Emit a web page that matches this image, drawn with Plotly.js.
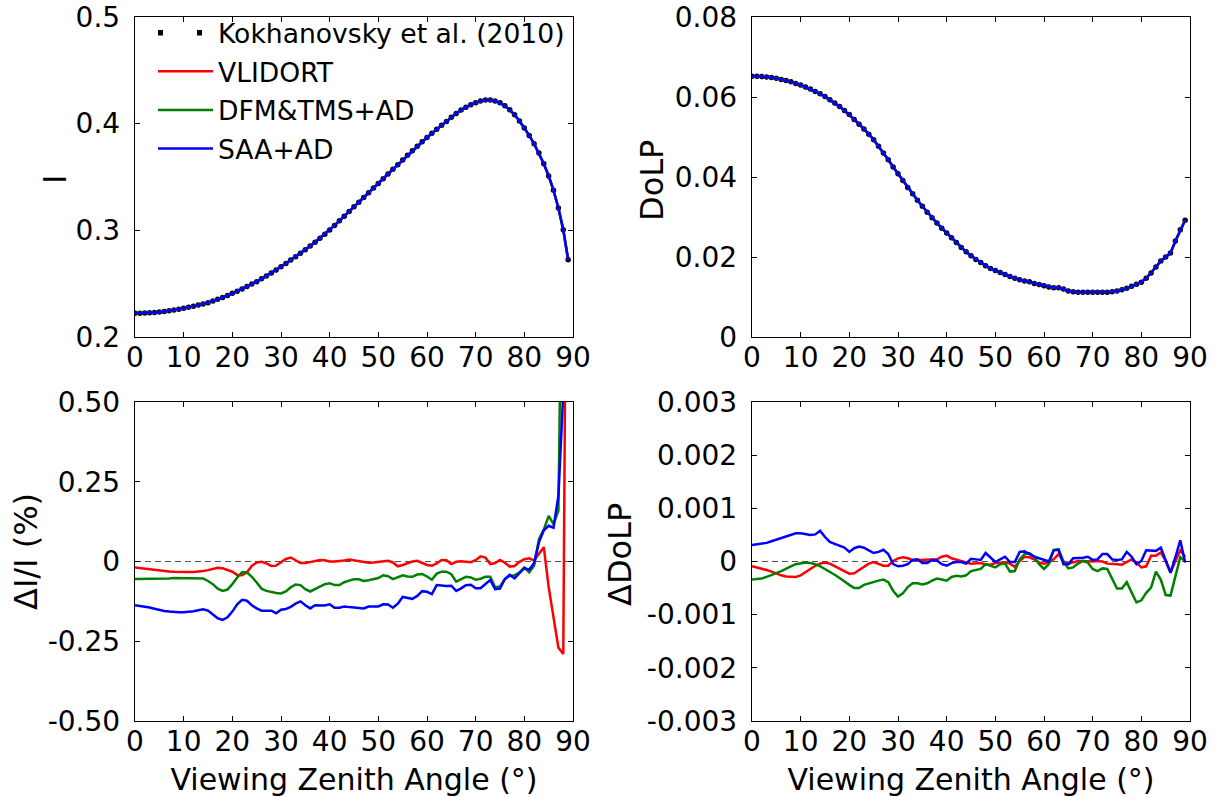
<!DOCTYPE html>
<html><head><meta charset="utf-8">
<script src="https://cdn.plot.ly/plotly-3.0.1.min.js"></script>
<style>html,body{margin:0;padding:0;background:#fff;} #chart{width:1222px;height:797px;}</style>
</head><body><div id="chart"></div>
<script>
// Viewing zenith angle (degrees)
const vza = [0,1,2,3,4,5,6,7,8,9,10,11,12,13,14,15,16,17,18,19,20,21,22,23,24,25,26,27,28,29,30,31,32,33,34,35,36,37,38,39,40,41,42,43,44,45,46,47,48,49,50,51,52,53,54,55,56,57,58,59,60,61,62,63,64,65,66,67,68,69,70,71,72,73,74,75,76,77,78,79,80,81,82,83,84,85,86,87,88,89];

// Intensity I (Kokhanovsky et al. 2010 and models, indistinguishable at this scale)
const kokhI = [0.2222,0.2223,0.2225,0.2227,0.2230,0.2234,0.2240,0.2246,0.2253,0.2261,0.2269,0.2278,0.2288,0.2299,0.2310,0.2322,0.2337,0.2353,0.2370,0.2389,0.2409,0.2430,0.2451,0.2473,0.2496,0.2519,0.2545,0.2572,0.2600,0.2629,0.2659,0.2690,0.2721,0.2753,0.2785,0.2817,0.2853,0.2889,0.2926,0.2964,0.3003,0.3046,0.3089,0.3132,0.3176,0.3220,0.3264,0.3308,0.3352,0.3396,0.3440,0.3484,0.3528,0.3572,0.3616,0.3660,0.3703,0.3746,0.3788,0.3830,0.3870,0.3909,0.3947,0.3984,0.4020,0.4060,0.4095,0.4127,0.4155,0.4178,0.4197,0.4212,0.4222,0.4222,0.4213,0.4195,0.4168,0.4130,0.4083,0.4025,0.3960,0.3890,0.3812,0.3725,0.3625,0.3510,0.3375,0.3210,0.3005,0.2725];

// Degree of linear polarization
const kokhDoLP = [0.0652,0.0652,0.0651,0.0650,0.0649,0.0647,0.0644,0.0641,0.0638,0.0634,0.0630,0.0625,0.0620,0.0614,0.0608,0.0601,0.0593,0.0585,0.0576,0.0566,0.0556,0.0544,0.0532,0.0520,0.0507,0.0493,0.0477,0.0460,0.0443,0.0425,0.0408,0.0391,0.0374,0.0358,0.0342,0.0327,0.0312,0.0298,0.0285,0.0272,0.0260,0.0248,0.0236,0.0224,0.0213,0.0203,0.0194,0.0186,0.0178,0.0171,0.0166,0.0161,0.0156,0.0151,0.0147,0.0143,0.0140,0.0138,0.0134,0.0131,0.0128,0.0125,0.0123,0.0123,0.0120,0.0115,0.0113,0.0112,0.0112,0.0112,0.0112,0.0112,0.0112,0.0112,0.0113,0.0115,0.0118,0.0122,0.0127,0.0132,0.0137,0.0147,0.0160,0.0175,0.0190,0.0200,0.0210,0.0240,0.0268,0.0292];

// Relative intensity differences (%)
const dI_vlidort = [-0.019,-0.021,-0.023,-0.025,-0.027,-0.028,-0.030,-0.031,-0.032,-0.033,-0.033,-0.033,-0.033,-0.032,-0.030,-0.027,-0.023,-0.020,-0.021,-0.026,-0.032,-0.042,-0.043,-0.034,-0.014,-0.003,-0.001,-0.006,-0.014,-0.013,-0.002,0.008,0.0125,0.005,-0.005,-0.005,-0.002,0.002,0.005,0.004,0.000,0.000,0.001,0.003,0.006,0.003,0.001,-0.002,-0.004,-0.003,-0.001,0.002,0.002,-0.003,-0.015,-0.011,-0.005,0.000,0.002,-0.005,-0.011,-0.013,-0.006,0.005,0.004,-0.008,-0.001,0.001,0.000,-0.002,0.004,0.016,0.0125,-0.008,-0.005,0.005,-0.004,-0.016,-0.014,-0.001,0.007,0.010,0.003,0.025,0.045,-0.080,-0.176,-0.270,-0.290,2.0];
const dI_dfm = [-0.055,-0.055,-0.055,-0.054,-0.054,-0.054,-0.053,-0.053,-0.052,-0.052,-0.052,-0.051,-0.051,-0.051,-0.053,-0.061,-0.071,-0.085,-0.092,-0.088,-0.071,-0.050,-0.034,-0.034,-0.048,-0.066,-0.085,-0.092,-0.096,-0.099,-0.100,-0.094,-0.081,-0.072,-0.074,-0.087,-0.094,-0.086,-0.078,-0.071,-0.068,-0.074,-0.074,-0.065,-0.060,-0.056,-0.056,-0.061,-0.059,-0.055,-0.052,-0.043,-0.046,-0.055,-0.050,-0.043,-0.047,-0.048,-0.041,-0.039,-0.047,-0.057,-0.038,-0.032,-0.032,-0.040,-0.063,-0.055,-0.048,-0.050,-0.057,-0.054,-0.048,-0.048,-0.081,-0.078,-0.055,-0.045,-0.043,-0.034,-0.019,-0.034,-0.013,0.070,0.100,0.143,0.117,0.159,0.700,2.5];
const dI_saa = [-0.137,-0.139,-0.142,-0.144,-0.148,-0.152,-0.155,-0.157,-0.159,-0.159,-0.159,-0.158,-0.156,-0.153,-0.150,-0.154,-0.167,-0.178,-0.183,-0.175,-0.157,-0.134,-0.120,-0.123,-0.137,-0.147,-0.154,-0.153,-0.154,-0.162,-0.151,-0.149,-0.142,-0.132,-0.125,-0.137,-0.147,-0.137,-0.137,-0.138,-0.134,-0.145,-0.145,-0.141,-0.143,-0.144,-0.144,-0.147,-0.141,-0.142,-0.141,-0.134,-0.135,-0.145,-0.132,-0.111,-0.113,-0.117,-0.108,-0.093,-0.095,-0.102,-0.074,-0.076,-0.077,-0.076,-0.092,-0.084,-0.074,-0.073,-0.084,-0.084,-0.071,-0.058,-0.087,-0.085,-0.055,-0.042,-0.053,-0.037,-0.020,-0.026,-0.005,0.060,0.098,0.112,0.106,0.206,0.530,2.3];

// DoLP differences
const dP_vlidort = [-0.00009,-0.00011,-0.00013,-0.00016,-0.00019,-0.00023,-0.00026,-0.00028,-0.00029,-0.00029,-0.00026,-0.00020,-0.00014,-0.00008,-0.00004,-0.00002,-0.00004,-0.00009,-0.00014,-0.00019,-0.00023,-0.00022,-0.00016,-0.00010,-0.00004,-0.00001,-0.00004,-0.00008,-0.00008,0.00001,0.00006,0.00008,0.00006,0.00003,0.00003,0.00003,0.00003,0.00003,0.00004,0.00009,0.00011,0.00006,0.00003,0.00001,-0.00002,-0.00004,-0.00003,-0.00003,-0.00005,-0.00006,-0.00003,-0.00003,-0.00002,-0.00004,-0.00010,0.00001,0.00009,0.00008,0.00004,-0.00002,-0.00004,-0.00002,0.00004,0.00014,0.00000,-0.00004,-0.00002,0.00001,0.00001,0.00000,0.00000,0.00001,0.00000,-0.00004,-0.00004,-0.00005,-0.00006,-0.00001,0.00004,-0.00002,-0.00011,-0.00009,0.00011,0.00011,0.00017,0.00001,-0.00021,0.00001,0.00021,0.00009];
const dP_dfm = [-0.00034,-0.00033,-0.00032,-0.00029,-0.00026,-0.00022,-0.00018,-0.00013,-0.00009,-0.00005,-0.00003,-0.00002,-0.00003,-0.00005,-0.00009,-0.00014,-0.00019,-0.00025,-0.00031,-0.00038,-0.00044,-0.00050,-0.00050,-0.00044,-0.00041,-0.00039,-0.00036,-0.00034,-0.00039,-0.00055,-0.00066,-0.00060,-0.00048,-0.00041,-0.00041,-0.00043,-0.00041,-0.00036,-0.00032,-0.00034,-0.00036,-0.00029,-0.00027,-0.00028,-0.00026,-0.00018,-0.00016,-0.00014,-0.00005,-0.00008,-0.00011,-0.00005,-0.00004,-0.00019,-0.00018,0.00004,0.00014,0.00016,0.00009,-0.00005,-0.00014,-0.00005,0.00022,0.00023,0.00000,-0.00013,-0.00011,-0.00004,0.00001,-0.00002,-0.00014,-0.00018,-0.00013,-0.00014,-0.00033,-0.00051,-0.00051,-0.00039,-0.00058,-0.00077,-0.00073,-0.00059,-0.00049,-0.00019,-0.00034,-0.00063,-0.00064,-0.00030,0.00008,0.00001];
const dP_saa = [0.00031,0.00032,0.00033,0.00035,0.00038,0.00041,0.00045,0.00048,0.00051,0.00053,0.00053,0.00052,0.00050,0.00051,0.00058,0.00046,0.00037,0.00033,0.00029,0.00026,0.00018,0.00025,0.00028,0.00026,0.00021,0.00016,0.00018,0.00022,0.00014,-0.00005,-0.00009,-0.00008,-0.00005,0.00003,0.00004,-0.00003,-0.00003,0.00003,0.00002,-0.00005,-0.00008,-0.00003,-0.00001,-0.00001,-0.00004,0.00005,0.00004,0.00003,0.00016,0.00008,-0.00001,0.00004,0.00009,-0.00001,-0.00001,0.00018,0.00019,0.00014,0.00009,0.00006,0.00003,0.00000,0.00021,0.00022,-0.00005,-0.00005,0.00006,0.00006,0.00007,0.00009,0.00003,0.00004,0.00014,0.00014,0.00004,0.00003,0.00004,0.00018,0.00009,-0.00005,0.00001,0.00021,0.00021,0.00020,0.00026,0.00004,-0.00021,0.00008,0.00040,-0.00002];

// Tick labels
const xTicks = [0,10,20,30,40,50,60,70,80,90];
const xTickText = ['0','10','20','30','40','50','60','70','80','90'];
const iTicks = [0.2,0.3,0.4,0.5];
const iTickText = ['0.2','0.3','0.4','0.5'];
const pTicks = [0,0.02,0.04,0.06,0.08];
const pTickText = ['0','0.02','0.04','0.06','0.08'];
const diTicks = [-0.5,-0.25,0,0.25,0.5];
const diTickText = ['-0.50','-0.25','0','0.25','0.50'];
const dpTicks = [-0.003,-0.002,-0.001,0,0.001,0.002,0.003];
const dpTickText = ['-0.003','-0.002','-0.001','0','0.001','0.002','0.003'];

const names = ['Kokhanovsky et al. (2010)','VLIDORT','DFM&TMS+AD','SAA+AD'];
const yTitles = ['I','DoLP','ΔI/I (%)','ΔDoLP'];
const xTitle = 'Viewing Zenith Angle (°)';
const colors = {ref:'#000000', vlidort:'#ff0000', dfm:'#008000', saa:'#0000ff'};

const FONT = 'DejaVu Sans, sans-serif';
const LW = 2.5;

function line(x, y, xa, ya, color, name, show, grp) {
  return {type:'scatter', mode:'lines', x:x, y:y, xaxis:xa, yaxis:ya, name:name,
    showlegend:show, legendgroup:grp, line:{color:color, width:LW}, hoverinfo:'skip'};
}
function dots(x, y, xa, ya) {
  return {type:'scatter', mode:'markers', x:x, y:y, xaxis:xa, yaxis:ya, name:names[0],
    showlegend:false, legendgroup:'g1', marker:{color:colors.ref, size:5.5}, hoverinfo:'skip'};
}

const traces = [
  // legend proxy for the reference dots (two dots, like the original legend)
  {type:'scatter', mode:'lines', x:[null], y:[null], xaxis:'x', yaxis:'y', name:names[0],
   showlegend:true, legendgroup:'g1', line:{color:colors.ref, width:5.5, dash:'5px,34px'}},
  dots(vza, kokhI, 'x', 'y'),
  line(vza, kokhI, 'x', 'y', colors.vlidort, names[1], true, 'g2'),
  line(vza, kokhI, 'x', 'y', colors.dfm, names[2], true, 'g3'),
  line(vza, kokhI, 'x', 'y', colors.saa, names[3], true, 'g4'),

  dots(vza, kokhDoLP, 'x2', 'y2'),
  line(vza, kokhDoLP, 'x2', 'y2', colors.vlidort, names[1], false, 'g2'),
  line(vza, kokhDoLP, 'x2', 'y2', colors.dfm, names[2], false, 'g3'),
  line(vza, kokhDoLP, 'x2', 'y2', colors.saa, names[3], false, 'g4'),

  line(vza, dI_vlidort, 'x3', 'y3', colors.vlidort, names[1], false, 'g2'),
  line(vza, dI_dfm, 'x3', 'y3', colors.dfm, names[2], false, 'g3'),
  line(vza, dI_saa, 'x3', 'y3', colors.saa, names[3], false, 'g4'),

  line(vza, dP_vlidort, 'x4', 'y4', colors.vlidort, names[1], false, 'g2'),
  line(vza, dP_dfm, 'x4', 'y4', colors.dfm, names[2], false, 'g3'),
  line(vza, dP_saa, 'x4', 'y4', colors.saa, names[3], false, 'g4')
];

const base = {showline:true, linecolor:'#000', linewidth:1.3, mirror:'ticks', ticks:'inside', ticklen:5,
  tickwidth:1, tickcolor:'#000', showgrid:false, zeroline:false, automargin:false, fixedrange:true,
  tickfont:{family:FONT, size:28, color:'#000'}};

function xax(domain, anchor, title) {
  const a = Object.assign({}, base, {domain:domain, anchor:anchor, range:[0,90], tickmode:'array',
    tickvals:xTicks, ticktext:xTickText, ticklabelstandoff:-5});
  if (title) a.title = {text:title, font:{family:FONT, size:30, color:'#000'}, standoff:14};
  return a;
}
function yax(domain, anchor, range, vals, text) {
  return Object.assign({}, base, {domain:domain, anchor:anchor, range:range, tickmode:'array',
    tickvals:vals, ticktext:text, ticklabelstandoff:8});
}

const XL = [135/1222, 573/1222], XR = [752/1222, 1190/1222];
const YT = [1-337/797, 1-17/797], YB = [1-721/797, 1-402/797];

function yTitle(text, px, py) {
  return {text:text, xref:'paper', yref:'paper', x:px/1222, y:1-py/797, xanchor:'center', yanchor:'middle',
    textangle:-90, showarrow:false, font:{family:FONT, size:32, color:'#000'}};
}

const layout = {
  width:1222, height:797, margin:{l:0, r:0, t:0, b:0},
  paper_bgcolor:'#fff', plot_bgcolor:'#fff',
  font:{family:FONT, size:28, color:'#000'},
  xaxis: xax(XL, 'y'),
  yaxis: yax(YT, 'x', [0.2,0.5], iTicks, iTickText),
  xaxis2: xax(XR, 'y2'),
  yaxis2: yax(YT, 'x2', [0,0.08], pTicks, pTickText),
  xaxis3: xax(XL, 'y3', xTitle),
  yaxis3: yax(YB, 'x3', [-0.5,0.5], diTicks, diTickText),
  xaxis4: xax(XR, 'y4', xTitle),
  yaxis4: yax(YB, 'x4', [-0.003,0.003], dpTicks, dpTickText),
  annotations:[
    yTitle(yTitles[0], 55, 180),
    yTitle(yTitles[1], 652, 181),
    yTitle(yTitles[2], 26, 552),
    yTitle(yTitles[3], 620, 555)
  ],
  showlegend:true,
  legend:{x:153/1222, xanchor:'left', y:1-9/797, yanchor:'top', bgcolor:'rgba(0,0,0,0)', borderwidth:0,
    font:{family:FONT, size:26.6, color:'#000'}, traceorder:'grouped', tracegroupgap:1, itemwidth:55},
  shapes:[
    {type:'line', xref:'x3 domain', x0:0, x1:1, yref:'y3', y0:0, y1:0, layer:'below',
     line:{color:'#555', width:1, dash:'6px,4px'}},
    {type:'line', xref:'x4 domain', x0:0, x1:1, yref:'y4', y0:0, y1:0, layer:'below',
     line:{color:'#555', width:1, dash:'6px,4px'}}
  ]
};

Plotly.newPlot('chart', traces, layout, {displayModeBar:false, staticPlot:true});
</script>
</body></html>
